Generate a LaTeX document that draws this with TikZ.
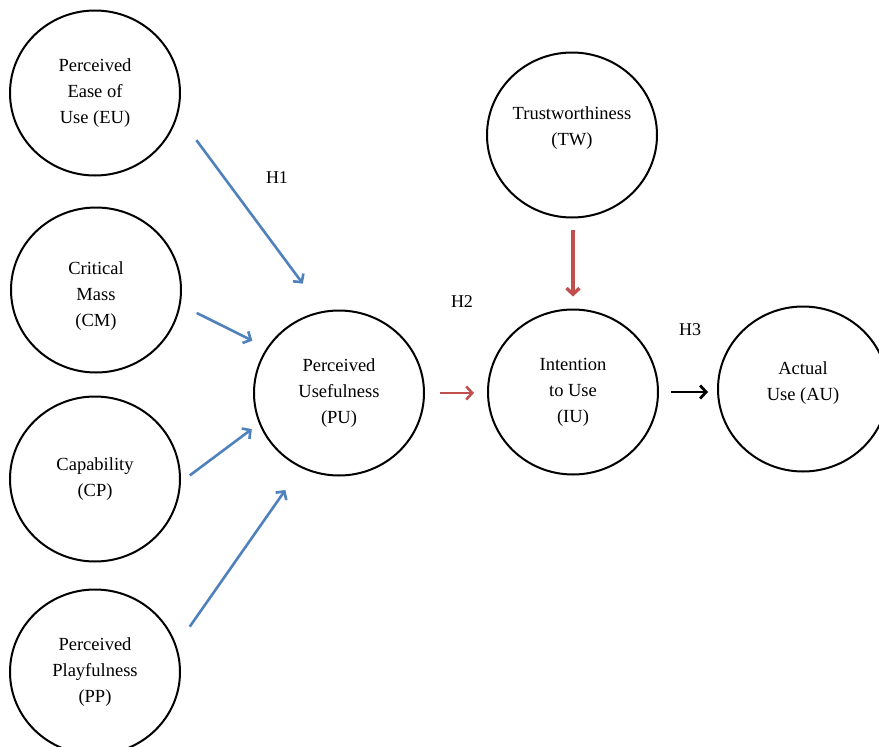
\documentclass[tikz,border=0pt]{standalone}
\usepackage{fontspec}
\setmainfont{Liberation Serif}
\usetikzlibrary{shapes.geometric,arrows.meta}
\definecolor{arrblue}{HTML}{4F81BD}
\definecolor{arrred}{HTML}{C0504D}
\begin{document}
\begin{tikzpicture}[x=1pt,y=-1pt,
  construct/.style={ellipse,draw=black,line width=2pt,minimum width=170pt,minimum height=165pt,inner sep=0pt,
    align=center,font=\fontsize{18.5}{26}\selectfont},
  hlabel/.style={font=\fontsize{18}{20}\selectfont,inner sep=0pt},
  barb/.style={-{Straight Barb[length=6pt,width=13pt]}},
  bluearr/.style={barb,draw=arrblue,line width=2.6pt},
  redarr/.style={barb,draw=arrred,line width=2.6pt},
  blackarr/.style={barb,draw=black,line width=2.8pt}]
\useasboundingbox (0,0) rectangle (879,747);
\node[construct] (EU) at (95,93) {Perceived\\Ease of\\Use (EU)};
\node[construct] (CM) at (96,290) {\rule{0pt}{25pt}Critical\\Mass\\(CM)};
\node[construct] (CP) at (95,479) {Capability\\(CP)};
\node[construct] (PP) at (95,672) {Perceived\\Playfulness\\(PP)};
\node[construct] (PU) at (339,393) {Perceived\\Usefulness\\(PU)};
\node[construct,text depth=18pt] (TW) at (572,135) {Trustworthiness\\(TW)};
\node[construct] (IU) at (573,392) {Intention\\to Use\\(IU)};
\node[construct,text depth=16pt] (AU) at (803,389) {Actual\\Use (AU)};
\node[hlabel] (H1) at (277,178) {H1};
\node[hlabel] (H2) at (462,302) {H2};
\node[hlabel] (H3) at (690,330) {H3};
\draw[bluearr,shorten <=31pt,shorten >=34pt] (EU.-15) -- (PU.101);
\draw[bluearr,shorten <=18pt,shorten >=16pt] (CM.-10) -- (PU.148);
\draw[bluearr,shorten <=11pt,shorten >=9pt] (CP.-2) -- (PU.201);
\draw[bluearr,shorten <=23pt,shorten >=27pt] (PP.18) -- (PU.243);
\draw[redarr,shorten <=15pt,shorten >=13pt] (PU.east) -- (PU.east -| IU.west);
\draw[redarr,line width=3.4pt,shorten <=11pt,shorten >=12pt] (TW.south -| IU.north) -- (IU.north);
\draw[blackarr,shorten <=12pt,shorten >=9pt] (IU.east) -- (IU.east -| AU.west);
\end{tikzpicture}
\end{document}
